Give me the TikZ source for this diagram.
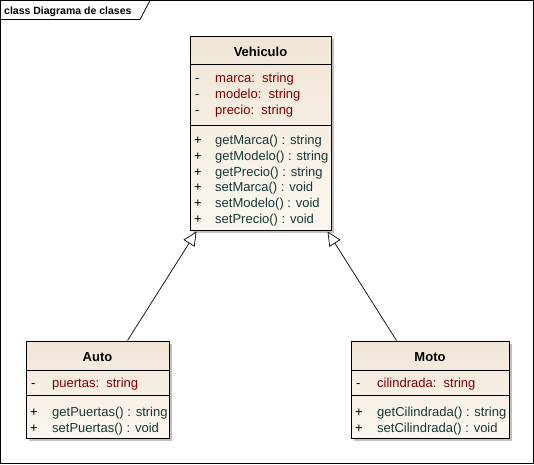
\documentclass[tikz,border=0pt]{standalone}
\usepackage{fontspec}
\setmainfont{Liberation Sans}
\usetikzlibrary{arrows.meta,calc}
\definecolor{attrc}{RGB}{128,0,0}
\definecolor{methc}{RGB}{22,58,58}
\definecolor{boxtop}{RGB}{240,230,214}
\definecolor{boxbot}{RGB}{251,247,240}
\definecolor{shadowc}{RGB}{150,150,150}
\begin{document}
\begin{tikzpicture}[x=1pt,y=-1pt,
  classbox/.style={draw=black,line width=1pt,rectangle,inner sep=0pt,
    top color=boxtop,bottom color=boxbot},
  title/.style={font=\fontsize{13}{15}\selectfont\bfseries,text=black,inner sep=0pt,anchor=base},
  vis/.style={font=\fontsize{13}{15}\selectfont,anchor=base west,inner sep=0pt},
  attr/.style={font=\fontsize{13}{15}\selectfont,text=attrc,anchor=base west,inner sep=0pt},
  meth/.style={font=\fontsize{13}{15}\selectfont,text=methc,anchor=base west,inner sep=0pt},
  sep/.style={line width=0.8pt},
  gen/.style={line width=0.7pt,-{Triangle[open,length=14pt,width=13pt,fill=white]}}
]
\useasboundingbox (0,0) rectangle (534,464);
\fill[white] (0,0) rectangle (534,464);
% frame
\draw[line width=0.8pt] (0.5,0.5) rectangle (533.4,463.4);
\draw[line width=0.8pt] (0.5,19.5) -- (140,19.5) -- (150,0.5);
\node[font=\fontsize{10.5}{12}\selectfont\bfseries,anchor=base west,inner sep=0pt] (frametitle) at (4,14) {class Diagrama de clases};

% shadows
\fill[shadowc!60] (193,39) rectangle (334,233);
\fill[shadowc!60] (29,344) rectangle (172,441);
\fill[shadowc!60] (354,344) rectangle (512,441);

% Vehiculo
\node[classbox,minimum width=141pt,minimum height=194pt] (veh) at (260.5,133) {};
\draw[sep] (190,64) -- (331,64);
\draw[sep] (190,125) -- (331,125);
\node[title] (vehT) at (260.5,56) {Vehiculo};
\node[vis] (v1) at (195,82) {-};
\node[attr] (a1) at (215,82) {marca:\ \ string};
\node[vis] (v2) at (195,98) {-};
\node[attr] (a2) at (215,98) {modelo:\ \ string};
\node[vis] (v3) at (195,114) {-};
\node[attr] (a3) at (215,114) {precio:\ \ string};
\node[vis] (p1) at (194,144) {+};
\node[meth] (m1) at (215,144) {getMarca() : string};
\node[vis] (p2) at (194,160) {+};
\node[meth] (m2) at (215,160) {getModelo() : string};
\node[vis] (p3) at (194,176) {+};
\node[meth] (m3) at (215,176) {getPrecio() : string};
\node[vis] (p4) at (194,191) {+};
\node[meth] (m4) at (215,191) {setMarca() : void};
\node[vis] (p5) at (194,207) {+};
\node[meth] (m5) at (215,207) {setModelo() : void};
\node[vis] (p6) at (194,223) {+};
\node[meth] (m6) at (215,223) {setPrecio() : void};

% Auto
\node[classbox,minimum width=143pt,minimum height=97pt] (auto) at (97.5,389.5) {};
\draw[sep] (26,370) -- (169,370);
\draw[sep] (26,395) -- (169,395);
\node[title] (autoT) at (97.5,361) {Auto};
\node[vis] (av1) at (31,387) {-};
\node[attr] (aa1) at (52,387) {puertas:\ \ string};
\node[vis] (ap1) at (30,416) {+};
\node[meth] (am1) at (52,416) {getPuertas() : string};
\node[vis] (ap2) at (30,432) {+};
\node[meth] (am2) at (52,432) {setPuertas() : void};

% Moto
\node[classbox,minimum width=158pt,minimum height=97pt] (moto) at (430,389.5) {};
\draw[sep] (351,370) -- (509,370);
\draw[sep] (351,395) -- (509,395);
\node[title] (motoT) at (430,361) {Moto};
\node[vis] (mv1) at (356,387) {-};
\node[attr] (ma1) at (377,387) {cilindrada:\ \ string};
\node[vis] (mp1) at (355,416) {+};
\node[meth] (mm1) at (377,416) {getCilindrada() : string};
\node[vis] (mp2) at (355,432) {+};
\node[meth] (mm2) at (377,432) {setCilindrada() : void};

% generalizations
\draw[gen] ($(auto.north west)+(102,0)$) -- ($(veh.south west)+(7,1)$);
\draw[gen] ($(moto.north west)+(46,0)$) -- ($(veh.south east)+(-4,1)$);
\end{tikzpicture}
\end{document}
